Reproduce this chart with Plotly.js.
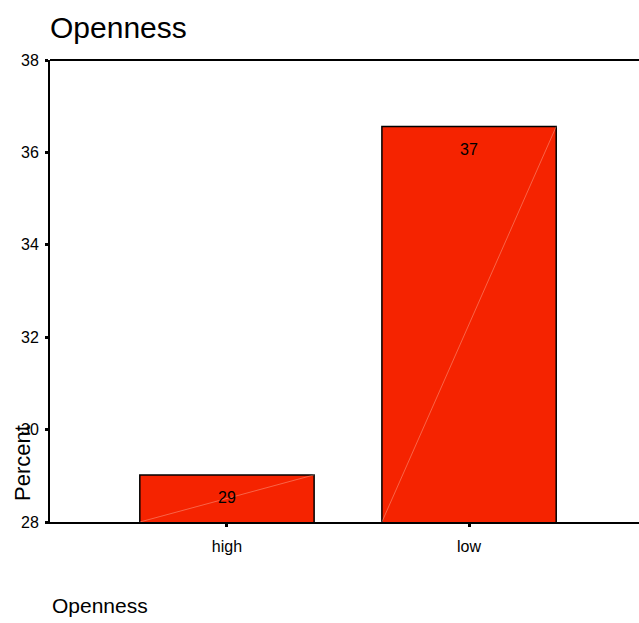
<!DOCTYPE html>
<html>
<head>
<meta charset="utf-8">
<script src="https://cdn.plot.ly/plotly-3.0.1.min.js"></script>
<style>
  html, body { margin: 0; padding: 0; background: #ffffff; }
  #chart { width: 639px; height: 623px; }
</style>
</head>
<body>
<div id="chart"></div>
<script>
// Openness groups and their percentages
const categories = ["high", "low"];
const percents = [29.02, 36.56];
const yTicks = [28, 30, 32, 34, 36, 38];

const barColor = "rgb(245,35,0)";
const barWidth = 0.72;
const fontFamily = "Liberation Sans, Arial, sans-serif";

const trace = {
  type: "bar",
  x: categories,
  y: percents,
  width: barWidth,
  marker: { color: barColor, line: { color: "#000000", width: 1.5 } },
  hoverinfo: "x+y"
};

// thin diagonal highlight across each bar, corner to corner
const shapes = categories.map((c, i) => ({
  type: "line",
  xref: "x", yref: "y",
  x0: i - barWidth / 2, y0: yTicks[0],
  x1: i + barWidth / 2, y1: percents[i],
  line: { color: "rgba(255,215,200,0.6)", width: 0.6 },
  layer: "above"
}));
// frame line along the top of the plot area
shapes.push({
  type: "line", xref: "paper", yref: "paper",
  x0: 0, x1: 1, y0: 1, y1: 1,
  line: { color: "#000000", width: 2 }
});

const valueLabels = categories.map((c, i) => ({
  x: c, y: percents[i], xref: "x", yref: "y",
  text: String(Math.round(percents[i])),
  showarrow: false, yshift: -23,
  font: { family: fontFamily, size: 16, color: "#000000" }
}));

const layout = {
  width: 639, height: 623,
  margin: { l: 50, r: 0, t: 60, b: 101, pad: 0 },
  paper_bgcolor: "#ffffff", plot_bgcolor: "#ffffff",
  showlegend: false,
  title: {
    text: "Openness",
    x: 50 / 639, xanchor: "left", xref: "container",
    y: 1 - 27 / 623, yanchor: "middle", yref: "container",
    font: { family: fontFamily, size: 30, color: "#000000" }
  },
  xaxis: {
    type: "category",
    range: [-0.731, 1.702],
    showline: true, linecolor: "#000000", linewidth: 2,
    ticks: "outside", ticklen: 3, tickwidth: 3, tickcolor: "#000000",
    ticklabelstandoff: 6,
    showgrid: false, zeroline: false,
    tickfont: { family: fontFamily, size: 16, color: "#000000" }
  },
  yaxis: {
    range: [28, 38],
    tickvals: yTicks, ticktext: yTicks.map(String),
    showline: true, linecolor: "#000000", linewidth: 2,
    ticks: "outside", ticklen: 3, tickwidth: 3, tickcolor: "#000000",
    ticklabelstandoff: 3,
    showgrid: false, zeroline: false,
    tickfont: { family: fontFamily, size: 16, color: "#000000" }
  },
  shapes: shapes,
  annotations: valueLabels.concat([
    {
      text: "Percent", textangle: -90,
      xref: "paper", yref: "paper",
      x: -28 / 589, y: 59 / 462,
      xanchor: "center", yanchor: "middle",
      showarrow: false,
      font: { family: fontFamily, size: 22, color: "#000000" }
    },
    {
      text: "Openness",
      xref: "paper", yref: "paper",
      x: 0, y: -83 / 462,
      xanchor: "left", yanchor: "middle",
      showarrow: false,
      font: { family: fontFamily, size: 21, color: "#000000" }
    }
  ])
};

Plotly.newPlot("chart", [trace], layout, { displayModeBar: false, staticPlot: true });
</script>
</body>
</html>
